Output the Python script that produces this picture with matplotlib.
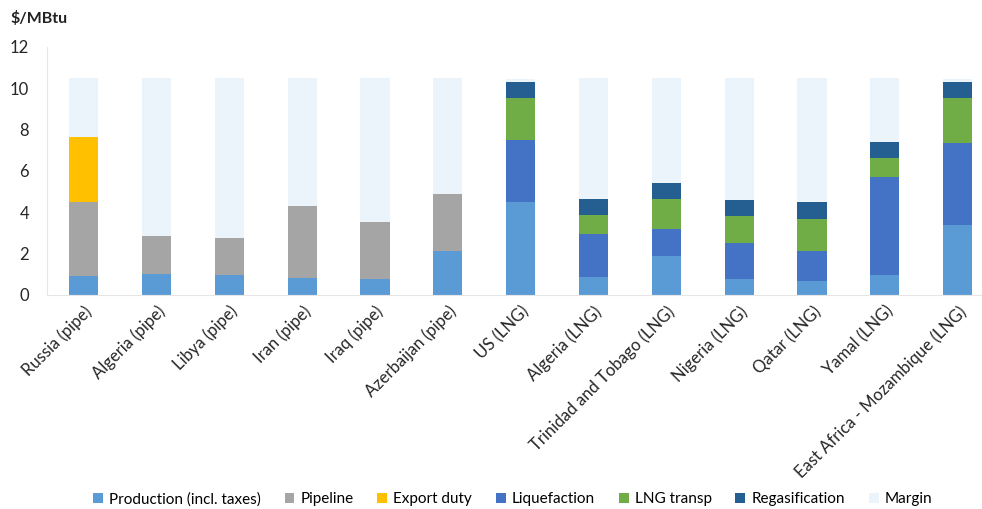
import numpy as np
import matplotlib.pyplot as plt

plt.rcParams['font.family'] = ['Lato', 'DejaVu Sans']

# Data ($/MBtu)
routes = ['Russia (pipe)', 'Algeria (pipe)', 'Libya (pipe)', 'Iran (pipe)', 'Iraq (pipe)',
          'Azerbaijan (pipe)', 'US (LNG)', 'Algeria (LNG)', 'Trinidad and Tobago (LNG)',
          'Nigeria (LNG)', 'Qatar (LNG)', 'Yamal (LNG)', 'East Africa - Mozambique (LNG)']
production = [0.91, 1.02, 0.94, 0.83, 0.76, 2.14, 4.50, 0.87, 1.89, 0.76, 0.68, 0.94, 3.38]
pipeline = [3.56, 1.81, 1.81, 3.46, 2.74, 2.75, 0, 0, 0, 0, 0, 0, 0]
export_duty = [3.19, 0, 0, 0, 0, 0, 0, 0, 0, 0, 0, 0, 0]
liquefaction = [0, 0, 0, 0, 0, 0, 2.98, 2.08, 1.28, 1.73, 1.44, 4.74, 3.99]
lng_transp = [0, 0, 0, 0, 0, 0, 2.03, 0.90, 1.46, 1.30, 1.54, 0.94, 2.14]
regasification = [0, 0, 0, 0, 0, 0, 0.79, 0.78, 0.79, 0.78, 0.83, 0.78, 0.79]
margin = [2.84, 7.67, 7.75, 6.21, 7.00, 5.61, 0.15, 5.87, 5.08, 5.93, 6.01, 3.10, 0.15]

series = [
    ('Production (incl. taxes)', production, '#5B9BD5'),
    ('Pipeline', pipeline, '#A5A5A5'),
    ('Export duty', export_duty, '#FFC000'),
    ('Liquefaction', liquefaction, '#4472C4'),
    ('LNG transp', lng_transp, '#70AD47'),
    ('Regasification', regasification, '#255E91'),
    ('Margin', margin, '#EBF3FB'),
]

fig = plt.figure(figsize=(9.82, 5.09), dpi=100)
ax = fig.add_axes([0.048, 0.421, 0.9644, 0.4867])

x = np.arange(len(routes))
bottom = np.zeros(len(routes))
for name, vals, col in series:
    ax.bar(x, vals, 0.4, bottom=bottom, color=col, label=name)
    bottom += np.array(vals)

ax.set_xlim(-0.5, len(routes) - 0.5)
ax.set_ylim(0, 12)
ax.set_yticks(range(0, 13, 2))
ax.set_xticks(x)
ax.set_xticklabels(routes, rotation=45, ha='right', rotation_mode='anchor', fontsize=11.5,
                   color='#262626')
ax.tick_params(axis='both', length=0, labelsize=12, colors='#262626')
ax.tick_params(axis='y', pad=13)
ax.tick_params(axis='x', pad=6)
for s in ['top', 'right']:
    ax.spines[s].set_visible(False)
for s in ['left', 'bottom']:
    ax.spines[s].set_color('#E6E6E6')

fig.text(0.011, 0.955, r'\$/MBtu', fontsize=11.5, fontweight='bold', color='#222222')

fig.legend(loc='lower center', bbox_to_anchor=(0.522, -0.022), ncol=7, frameon=False,
           fontsize=11, handlelength=0.65, handleheight=0.65, handletextpad=0.4,
           columnspacing=1.55)

fig.savefig('out.png', dpi=100)
